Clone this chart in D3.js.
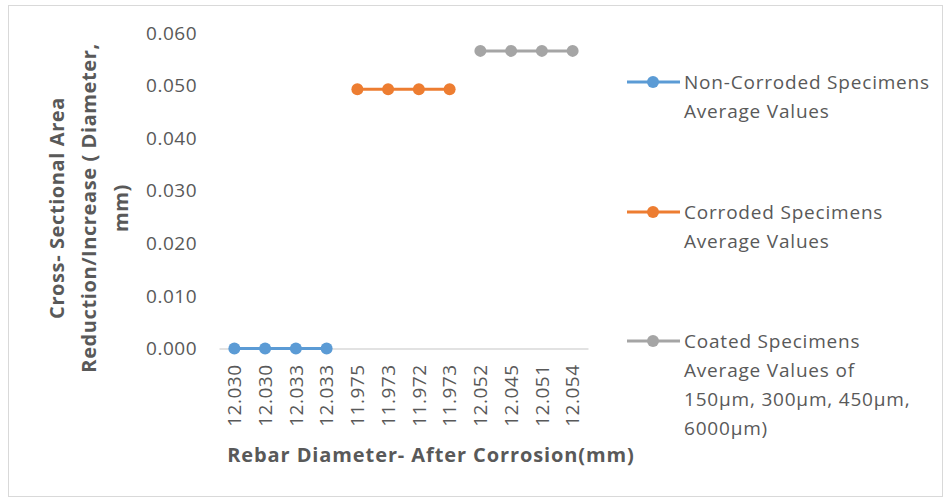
<!DOCTYPE html>
<html><head><meta charset="utf-8">
<script src="https://cdn.jsdelivr.net/npm/d3@7"></script>
<style>body{margin:0;background:#fff;} text{font-family:"Open Sans",sans-serif;}</style>
</head><body><svg id="c" width="944" height="499"></svg>
<script>
const categories = ["12.030","12.030","12.033","12.033","11.975","11.973","11.972","11.973","12.052","12.045","12.051","12.054"];
const nonCorroded = [0,0,0,0,null,null,null,null,null,null,null,null];
const corroded = [null,null,null,null,0.0493,0.0493,0.0493,0.0493,null,null,null,null];
const coated = [null,null,null,null,null,null,null,null,0.0566,0.0566,0.0566,0.0566];
const yTicks = [0,0.01,0.02,0.03,0.04,0.05,0.06];
const seriesNames = [["Non-Corroded Specimens","Average Values"],["Corroded Specimens","Average Values"],["Coated Specimens","Average Values of","150µm, 300µm, 450µm,","6000µm)"]];
const colors = ["#5B9BD5","#ED7D31","#A5A5A5"];
const series = [nonCorroded, corroded, coated];

const svg = d3.select("#c");
const txt = "#595959";
svg.append("rect").attr("x",8.5).attr("y",5.5).attr("width",934).attr("height",491).attr("fill","#fff").attr("stroke","#D9D9D9");

const x = d3.scaleBand().domain(d3.range(categories.length)).range([219,588]);
const y = d3.scaleLinear().domain([0,0.06]).range([348.5,33]);

// y axis labels
const ya = svg.append("g").attr("transform","translate(197,0)")
  .call(d3.axisLeft(y).tickValues(yTicks).tickFormat(d3.format(".3f")).tickSize(0).tickPadding(0));
ya.select(".domain").remove();
ya.selectAll("text").attr("fill",txt).attr("font-size",19).attr("letter-spacing",0.5).attr("font-family","Open Sans");

// x axis
const xa = svg.append("g").attr("transform","translate(0,348.5)")
  .call(d3.axisBottom(x).tickFormat(i=>categories[i]).tickSize(0).tickPadding(0));
xa.select(".domain").attr("stroke","#D9D9D9").attr("stroke-width",1.3);
xa.selectAll("text").attr("fill",txt).attr("font-size",19).attr("letter-spacing",0.5).attr("font-family","Open Sans")
  .attr("text-anchor","end").attr("dy","0.35em").attr("transform","translate(0,16) rotate(-90)").attr("x",0).attr("y",0);

// series
series.forEach((s,k)=>{
  const pts = s.map((v,i)=>({i,v})).filter(d=>d.v!==null);
  svg.append("path").datum(pts).attr("fill","none").attr("stroke",colors[k]).attr("stroke-width",3)
    .attr("d",d3.line().x(d=>x(d.i)+x.bandwidth()/2).y(d=>y(d.v)));
  svg.selectAll(null).data(pts).enter().append("circle")
    .attr("cx",d=>x(d.i)+x.bandwidth()/2).attr("cy",d=>y(d.v)).attr("r",6).attr("fill",colors[k]);
});

// axis titles
const yt = svg.append("text").attr("transform","translate(0,208) rotate(-90)")
  .attr("text-anchor","middle").attr("font-weight","bold").attr("font-size",20).attr("letter-spacing",0.6).attr("fill",txt);
["Cross- Sectional Area","Reduction/Increase ( Diameter,","mm)"].forEach((l,i)=>{
  yt.append("tspan").attr("x",0).attr("y",64+i*32).text(l);
});
svg.append("text").attr("x",431).attr("y",462).attr("text-anchor","middle").attr("font-weight","bold")
  .attr("font-size",20).attr("letter-spacing",0.9).attr("fill",txt).text("Rebar Diameter- After Corrosion(mm)");

// legend
const legY = [82,212,341];
seriesNames.forEach((lines,k)=>{
  const g = svg.append("g");
  g.append("line").attr("x1",627).attr("x2",680).attr("y1",legY[k]).attr("y2",legY[k]).attr("stroke",colors[k]).attr("stroke-width",3);
  g.append("circle").attr("cx",653).attr("cy",legY[k]).attr("r",6).attr("fill",colors[k]);
  lines.forEach((l,j)=>{
    g.append("text").attr("x",684).attr("y",legY[k]+j*29).attr("dy","0.35em").attr("font-size",19).attr("letter-spacing",0.8).attr("fill",txt).text(l);
  });
});
</script></body></html>
